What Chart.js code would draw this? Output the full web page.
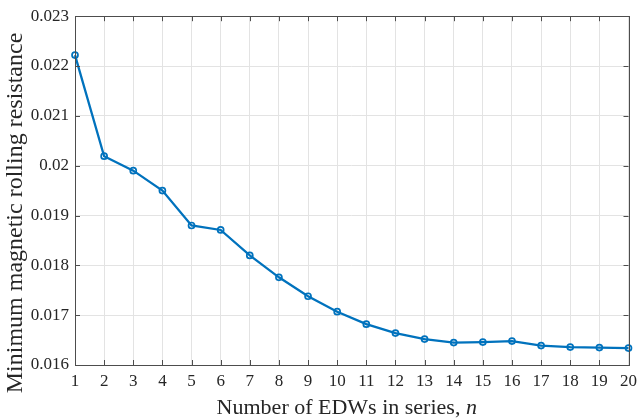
<!DOCTYPE html>
<html>
<head>
<meta charset="utf-8">
<script src="https://cdn.jsdelivr.net/npm/chart.js@4/dist/chart.umd.min.js"></script>
<style>
  html, body { margin: 0; padding: 0; background: #fff; }
  #wrap { width: 643px; height: 420px; position: relative; }
</style>
</head>
<body>
<div id="wrap"><canvas id="c" width="643" height="420"></canvas></div>
<script>
// Number of EDWs connected in series
const nValues = [1, 2, 3, 4, 5, 6, 7, 8, 9, 10, 11, 12, 13, 14, 15, 16, 17, 18, 19, 20];
// Minimum magnetic rolling resistance for each n
const resistance = [0.02222, 0.02019, 0.01990, 0.01950, 0.01880, 0.01871, 0.01820, 0.01776,
                    0.01738, 0.01707, 0.01682, 0.01664, 0.01652, 0.01645, 0.01646, 0.01648,
                    0.01639, 0.01636, 0.01635, 0.01634];
// Axis ranges
const xRange = [1, 20];
const yRange = [0.016, 0.023];
const yStep = 0.001;

const FONT = '"Liberation Serif", "Times New Roman", serif';
const TEXT_COLOR = '#262626';
const AXIS_COLOR = '#4d4d4d';
const GRID_COLOR = '#e3e3e3';
const LINE_COLOR = '#0072BD';

// Draws the closed box around the plot and the inward tick marks on all four sides
const boxPlugin = {
  id: 'boxTicks',
  afterDatasetsDraw(chart) {
    const { ctx, chartArea: a, scales } = chart;
    const len = 5;
    ctx.save();
    ctx.strokeStyle = AXIS_COLOR;
    ctx.lineWidth = 1;
    ctx.beginPath();
    scales.x.ticks.forEach(t => {
      const px = Math.round(scales.x.getPixelForValue(t.value)) + 0.5;
      ctx.moveTo(px, a.bottom); ctx.lineTo(px, a.bottom - len);
      ctx.moveTo(px, a.top); ctx.lineTo(px, a.top + len);
    });
    scales.y.ticks.forEach(t => {
      const py = Math.round(scales.y.getPixelForValue(t.value)) + 0.5;
      ctx.moveTo(a.left, py); ctx.lineTo(a.left + len, py);
      ctx.moveTo(a.right, py); ctx.lineTo(a.right - len, py);
    });
    ctx.stroke();
    ctx.strokeRect(Math.round(a.left) + 0.5, Math.round(a.top) + 0.5,
                   Math.round(a.right - a.left), Math.round(a.bottom - a.top));
    ctx.restore();
  }
};

// Axis titles: the x title carries an italic variable name
const titlesPlugin = {
  id: 'axisTitles',
  afterDraw(chart) {
    const { ctx, chartArea: a } = chart;
    ctx.save();
    ctx.fillStyle = TEXT_COLOR;

    // x axis title
    const plain = 'Number of EDWs in series, ';
    const ital = 'n';
    ctx.textBaseline = 'alphabetic';
    ctx.font = '22px ' + FONT;
    const w1 = ctx.measureText(plain).width;
    ctx.font = 'italic 22px ' + FONT;
    const w2 = ctx.measureText(ital).width;
    const cx = (a.left + a.right) / 2 - 5;
    const x0 = cx - (w1 + w2) / 2;
    ctx.textAlign = 'left';
    ctx.font = '22px ' + FONT;
    ctx.fillText(plain, x0, 414);
    ctx.font = 'italic 22px ' + FONT;
    ctx.fillText(ital, x0 + w1, 414);

    // y axis title
    ctx.translate(16, 213);
    ctx.rotate(-Math.PI / 2);
    ctx.textAlign = 'center';
    ctx.textBaseline = 'middle';
    ctx.font = '24px ' + FONT;
    ctx.fillText('Minimum magnetic rolling resistance', 0, 0);
    ctx.restore();
  }
};

new Chart(document.getElementById('c'), {
  type: 'line',
  data: {
    labels: nValues,
    datasets: [{
      data: nValues.map((n, i) => ({ x: n, y: resistance[i] })),
      borderColor: LINE_COLOR,
      borderWidth: 2.3,
      pointStyle: 'circle',
      pointRadius: 3,
      pointBorderWidth: 1.7,
      pointBorderColor: LINE_COLOR,
      pointBackgroundColor: 'rgba(0,0,0,0)',
      tension: 0,
      clip: false
    }]
  },
  options: {
    responsive: false,
    animation: false,
    devicePixelRatio: 1,
    layout: { padding: { top: 4, right: 9, left: 0, bottom: 0 } },
    plugins: { legend: { display: false }, tooltip: { enabled: false } },
    scales: {
      x: {
        type: 'linear',
        min: xRange[0],
        max: xRange[1],
        ticks: {
          stepSize: 1,
          color: TEXT_COLOR,
          font: { family: FONT, size: 17 },
          padding: 6,
          maxRotation: 0,
          autoSkip: false
        },
        grid: { color: GRID_COLOR, drawTicks: false },
        border: { display: false },
        afterFit(s) { s.height = 55; }
      },
      y: {
        min: yRange[0],
        max: yRange[1],
        ticks: {
          stepSize: yStep,
          color: TEXT_COLOR,
          font: { family: FONT, size: 17 },
          padding: 6,
          callback: v => String(Number(v.toFixed(3)))
        },
        grid: { color: GRID_COLOR, drawTicks: false },
        border: { display: false },
        afterFit(s) { s.width = 75; }
      }
    }
  },
  plugins: [boxPlugin, titlesPlugin]
});
</script>
</body>
</html>
